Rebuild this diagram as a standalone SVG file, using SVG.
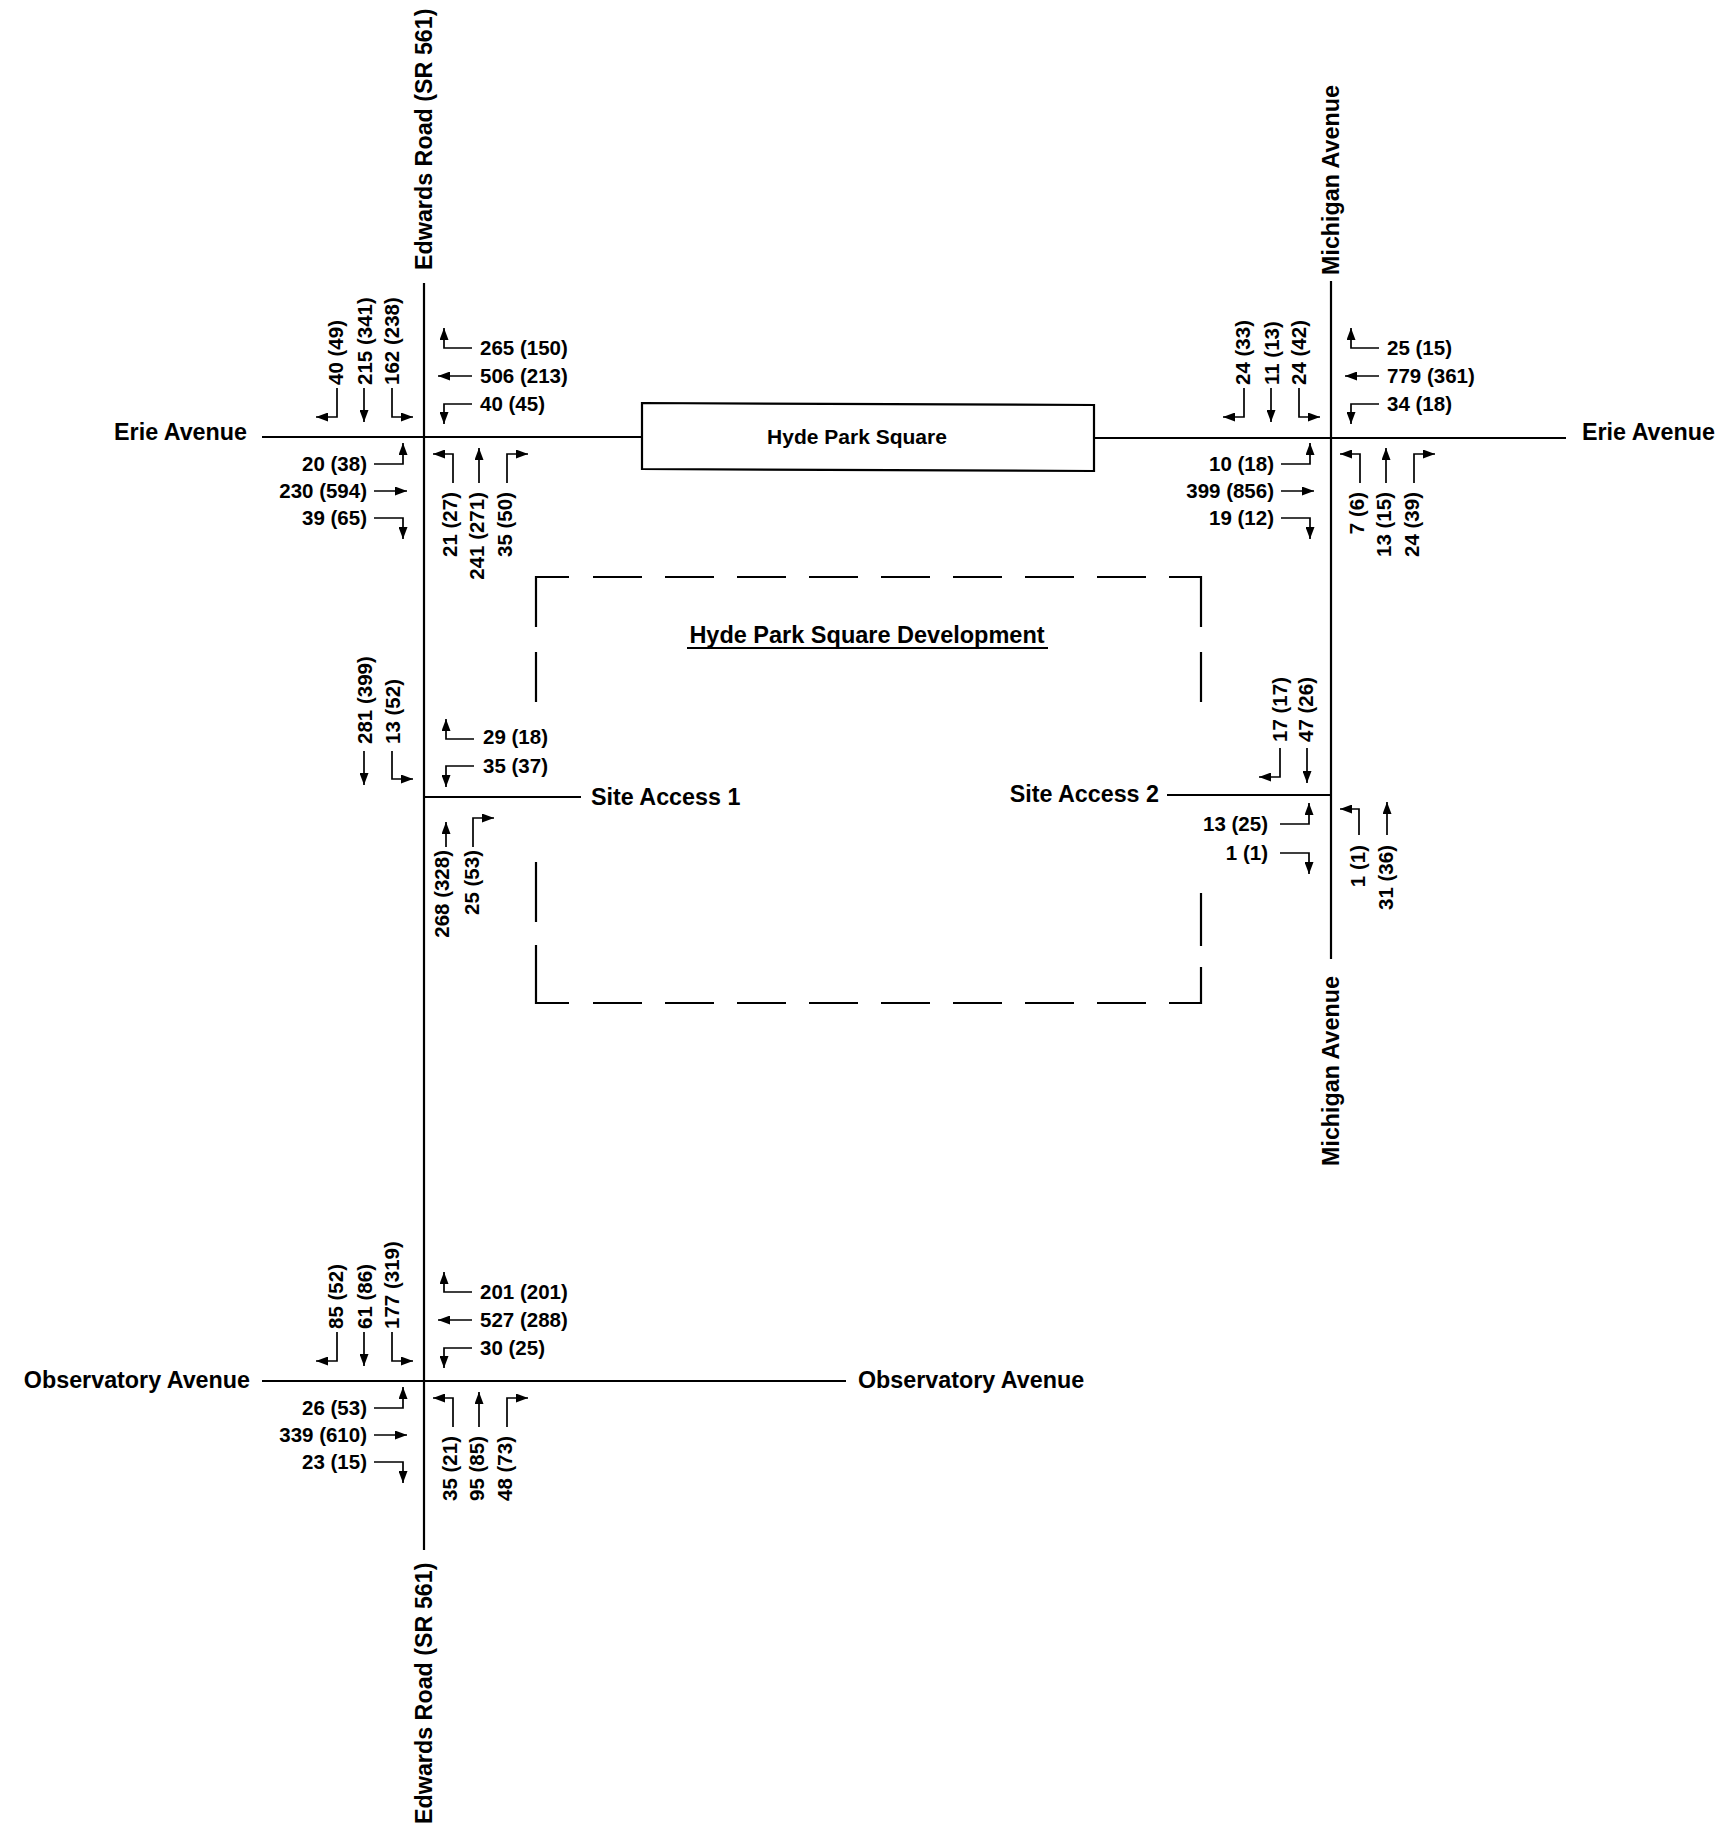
<svg xmlns="http://www.w3.org/2000/svg" width="1736" height="1838" viewBox="0 0 1736 1838">
<style>
.road{stroke:#000;stroke-width:2.2;fill:none}
.mv{stroke:#000;stroke-width:1.7;fill:none;marker-end:url(#ah)}
.dash{stroke:#000;stroke-width:2.2;fill:none}
.t{font-family:"Liberation Sans",Arial,Helvetica,sans-serif;font-weight:700;fill:#000}
.n{font-size:20.5px}
.r{font-size:23.3px}
.e{text-anchor:end}
.m{text-anchor:middle}
</style>
<defs>
<marker id="ah" viewBox="0 0 12 9" refX="12" refY="4.5" markerWidth="12" markerHeight="9" markerUnits="userSpaceOnUse" orient="auto">
<path d="M0,0 L12,4.5 L0,9 z" fill="#000"/>
</marker>
</defs>
<rect width="1736" height="1838" fill="#fff"/>

<g id="connectors">
<line class="road" x1="424" y1="283" x2="424" y2="1550"/>
<line class="road" x1="1331" y1="281" x2="1331" y2="959"/>
<line class="road" x1="262" y1="437" x2="642" y2="437"/>
<line class="road" x1="1094" y1="438" x2="1566" y2="438"/>
<line class="road" x1="262" y1="1381" x2="846" y2="1381"/>
<line class="road" x1="424" y1="797" x2="581" y2="797"/>
<line class="road" x1="1167" y1="795" x2="1331" y2="795"/>
</g>

<g id="hyde-park-square">
<polygon points="642,403 1094,405 1094,471 642,469" fill="#fff" stroke="#000" stroke-width="2.2"/>
<text class="t m" x="857" y="444" font-size="21">Hyde Park Square</text>
</g>

<g id="development">
<path class="dash" d="M569,577 H536 V627 M1169,577 H1201 V627 M569,1003 H536 V945 M1169,1003 H1201 V967"/>
<line class="dash" x1="593" y1="577" x2="1146" y2="577" stroke-dasharray="49 23"/>
<line class="dash" x1="593" y1="1003" x2="1146" y2="1003" stroke-dasharray="49 23"/>
<path class="dash" d="M536,652 V702 M536,862 V922 M1201,652 V702 M1201,893 V946"/>
<text class="t m" x="867" y="643" font-size="23.5">Hyde Park Square Development</text>
<line x1="687" y1="648" x2="1048" y2="648" stroke="#000" stroke-width="2"/>
</g>

<g id="road-labels">
<text class="t r e" x="247" y="440">Erie Avenue</text>
<text class="t r" x="1582" y="440">Erie Avenue</text>
<text class="t r e" x="250" y="1388">Observatory Avenue</text>
<text class="t r" x="858" y="1388">Observatory Avenue</text>
<text class="t r" x="591" y="805">Site Access 1</text>
<text class="t r e" x="1159" y="802">Site Access 2</text>
<text class="t r" transform="translate(432,270) rotate(-90)">Edwards Road (SR 561)</text>
<text class="t r" transform="translate(432,1824) rotate(-90)">Edwards Road (SR 561)</text>
<text class="t r" transform="translate(1339,275) rotate(-90)">Michigan Avenue</text>
<text class="t r" transform="translate(1339,1166) rotate(-90)">Michigan Avenue</text>
</g>

<g id="edwards-erie">
<path class="mv" d="M337,388 V417 H316"/>
<path class="mv" d="M364,388 V422"/>
<path class="mv" d="M392,388 V417 H413"/>
<text class="t n" transform="translate(343,385) rotate(-90)">40 (49)</text>
<text class="t n" transform="translate(372,385) rotate(-90)">215 (341)</text>
<text class="t n" transform="translate(399,385) rotate(-90)">162 (238)</text>
<path class="mv" d="M472,348 H444 V328"/>
<path class="mv" d="M472,376 H438"/>
<path class="mv" d="M472,404 H444 V424"/>
<text class="t n" x="480" y="355">265 (150)</text>
<text class="t n" x="480" y="383">506 (213)</text>
<text class="t n" x="480" y="411">40 (45)</text>
<path class="mv" d="M374,464 H403 V443"/>
<path class="mv" d="M374,491 H407"/>
<path class="mv" d="M374,518 H403 V539"/>
<text class="t n e" x="367" y="471">20 (38)</text>
<text class="t n e" x="367" y="498">230 (594)</text>
<text class="t n e" x="367" y="525">39 (65)</text>
<path class="mv" d="M453,483 V454 H433"/>
<path class="mv" d="M479,483 V448"/>
<path class="mv" d="M507,483 V454 H528"/>
<text class="t n e" transform="translate(457,492) rotate(-90)">21 (27)</text>
<text class="t n e" transform="translate(484,492) rotate(-90)">241 (271)</text>
<text class="t n e" transform="translate(512,492) rotate(-90)">35 (50)</text>
</g>

<g id="michigan-erie">
<path class="mv" d="M1244,388 V417 H1223"/>
<path class="mv" d="M1271,388 V422"/>
<path class="mv" d="M1299,388 V417 H1320"/>
<text class="t n" transform="translate(1250,385) rotate(-90)">24 (33)</text>
<text class="t n" transform="translate(1279,385) rotate(-90)">11 (13)</text>
<text class="t n" transform="translate(1306,385) rotate(-90)">24 (42)</text>
<path class="mv" d="M1379,348 H1351 V328"/>
<path class="mv" d="M1379,376 H1345"/>
<path class="mv" d="M1379,404 H1351 V424"/>
<text class="t n" x="1387" y="355">25 (15)</text>
<text class="t n" x="1387" y="383">779 (361)</text>
<text class="t n" x="1387" y="411">34 (18)</text>
<path class="mv" d="M1281,464 H1310 V443"/>
<path class="mv" d="M1281,491 H1314"/>
<path class="mv" d="M1281,518 H1310 V539"/>
<text class="t n e" x="1274" y="471">10 (18)</text>
<text class="t n e" x="1274" y="498">399 (856)</text>
<text class="t n e" x="1274" y="525">19 (12)</text>
<path class="mv" d="M1360,483 V454 H1340"/>
<path class="mv" d="M1386,483 V448"/>
<path class="mv" d="M1414,483 V454 H1435"/>
<text class="t n e" transform="translate(1364,492) rotate(-90)">7 (6)</text>
<text class="t n e" transform="translate(1391,492) rotate(-90)">13 (15)</text>
<text class="t n e" transform="translate(1419,492) rotate(-90)">24 (39)</text>
</g>

<g id="site-access-1">
<path class="mv" d="M364,751 V785"/>
<path class="mv" d="M392,751 V779 H413"/>
<text class="t n" transform="translate(372,744) rotate(-90)">281 (399)</text>
<text class="t n" transform="translate(400,744) rotate(-90)">13 (52)</text>
<path class="mv" d="M474,739 H446 V719"/>
<path class="mv" d="M474,766 H446 V787"/>
<text class="t n" x="483" y="744">29 (18)</text>
<text class="t n" x="483" y="773">35 (37)</text>
<path class="mv" d="M446,847 V822"/>
<path class="mv" d="M473,847 V818 H494"/>
<text class="t n e" transform="translate(449,850) rotate(-90)">268 (328)</text>
<text class="t n e" transform="translate(479,850) rotate(-90)">25 (53)</text>
</g>

<g id="site-access-2">
<path class="mv" d="M1280,748 V777 H1259"/>
<path class="mv" d="M1307,748 V783"/>
<text class="t n" transform="translate(1287,742) rotate(-90)">17 (17)</text>
<text class="t n" transform="translate(1313,742) rotate(-90)">47 (26)</text>
<path class="mv" d="M1280,824 H1309 V803"/>
<path class="mv" d="M1280,853 H1309 V874"/>
<text class="t n e" x="1268" y="831">13 (25)</text>
<text class="t n e" x="1268" y="860">1 (1)</text>
<path class="mv" d="M1359,835 V809 H1340"/>
<path class="mv" d="M1387,835 V802"/>
<text class="t n e" transform="translate(1365,845) rotate(-90)">1 (1)</text>
<text class="t n e" transform="translate(1393,845) rotate(-90)">31 (36)</text>
</g>

<g id="edwards-observatory">
<path class="mv" d="M337,1332 V1361 H316"/>
<path class="mv" d="M364,1332 V1366"/>
<path class="mv" d="M392,1332 V1361 H413"/>
<text class="t n" transform="translate(343,1329) rotate(-90)">85 (52)</text>
<text class="t n" transform="translate(372,1329) rotate(-90)">61 (86)</text>
<text class="t n" transform="translate(399,1329) rotate(-90)">177 (319)</text>
<path class="mv" d="M472,1292 H444 V1272"/>
<path class="mv" d="M472,1320 H438"/>
<path class="mv" d="M472,1348 H444 V1368"/>
<text class="t n" x="480" y="1299">201 (201)</text>
<text class="t n" x="480" y="1327">527 (288)</text>
<text class="t n" x="480" y="1355">30 (25)</text>
<path class="mv" d="M374,1408 H403 V1387"/>
<path class="mv" d="M374,1435 H407"/>
<path class="mv" d="M374,1462 H403 V1483"/>
<text class="t n e" x="367" y="1415">26 (53)</text>
<text class="t n e" x="367" y="1442">339 (610)</text>
<text class="t n e" x="367" y="1469">23 (15)</text>
<path class="mv" d="M453,1427 V1398 H433"/>
<path class="mv" d="M479,1427 V1392"/>
<path class="mv" d="M507,1427 V1398 H528"/>
<text class="t n e" transform="translate(457,1436) rotate(-90)">35 (21)</text>
<text class="t n e" transform="translate(484,1436) rotate(-90)">95 (85)</text>
<text class="t n e" transform="translate(512,1436) rotate(-90)">48 (73)</text>
</g>
</svg>
